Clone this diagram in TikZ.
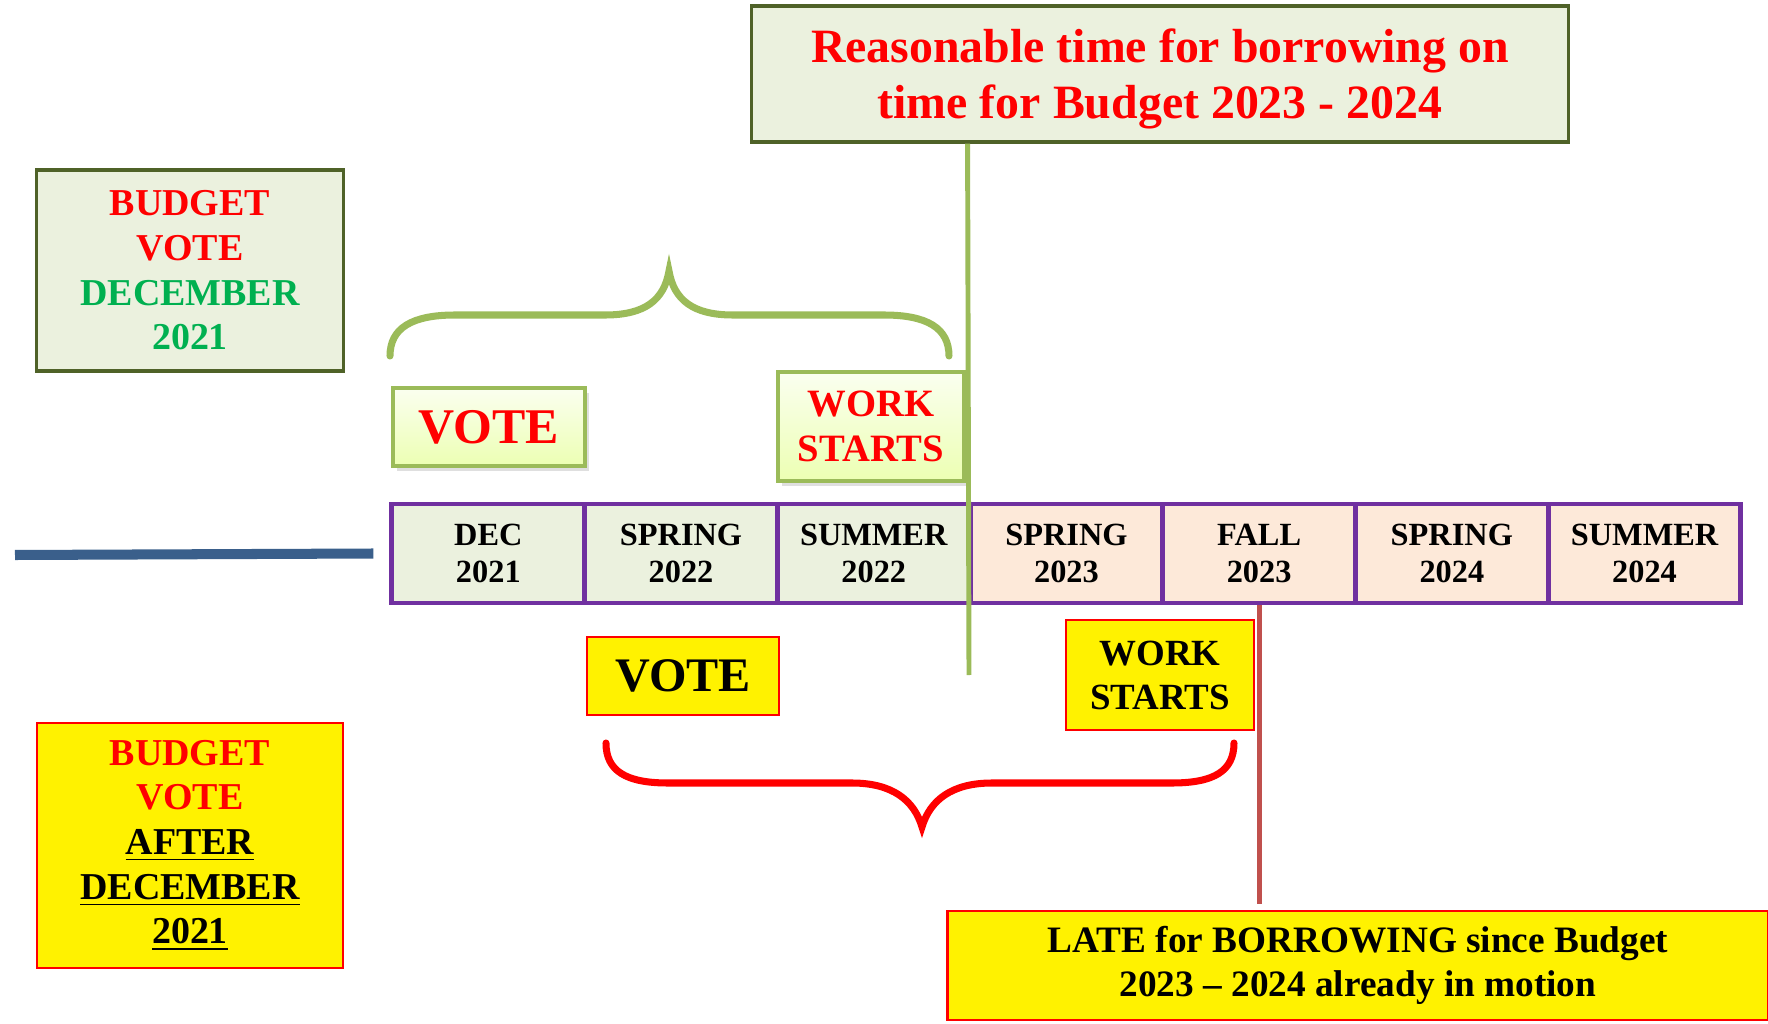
\documentclass[tikz,border=0pt]{standalone}
\usepackage{fontspec}
\setmainfont{Liberation Serif}
\usetikzlibrary{positioning}
\usetikzlibrary{shadows}
\definecolor{olivefill}{HTML}{EBF1DE}
\definecolor{oliveline}{HTML}{4F6228}
\definecolor{leafgreen}{HTML}{9BBB59}
\definecolor{peach}{HTML}{FDE9D9}
\definecolor{timepurple}{HTML}{7030A0}
\definecolor{brickred}{HTML}{C0504D}
\definecolor{navyline}{HTML}{3A5F8B}
\definecolor{votegreen}{HTML}{00B050}
\tikzset{every node/.style={align=center, inner sep=0pt, font=\bfseries},
  olivebox/.style={ % light olive boxes with dark border
    draw=oliveline, fill=olivefill, line width=0.9pt},
  leafbox/.style={ % shaded green boxes on top of the timeline
    draw=leafgreen, line width=1pt, top color=green!4!lime!6, bottom color=lime!30,
    drop shadow={opacity=0.25, shadow xshift=0.04cm, shadow yshift=-0.05cm},
    text=red},
  yellowbox/.style={ % yellow boxes below the timeline
    draw=red, fill=yellow, line width=0.8pt},
  cell/.style={draw=timepurple, line width=1.4pt,
    minimum width=1.927cm, minimum height=0.99cm,
    font=\bfseries\fontsize{9.2}{10.4}\selectfont},
  bracestroke/.style={line width=2pt, line cap=round},
  marker/.style={line width=1.4pt}}

\begin{document}
\begin{tikzpicture}[x=0.01cm, y=-0.01cm]
  \useasboundingbox (0,0) rectangle (1768,1024);

  \node[olivebox, minimum width=8.16cm, minimum height=1.36cm, text=red,
    font=\bfseries\fontsize{13.6}{16}\selectfont] (reasonable) at (1160,74)
    {\rule{0pt}{12.5pt}Reasonable time for borrowing on\\time for Budget 2023 - 2024};

  \node[olivebox, minimum width=3.06cm, minimum height=2.01cm,
    font=\bfseries\fontsize{10.8}{12.7}\selectfont] (budgetdec) at (190,270.5)
    {\textcolor{red}{BUDGET}\\\textcolor{red}{VOTE}\\\textcolor{votegreen}{DECEMBER}\\\textcolor{votegreen}{2021}};

  \node[leafbox, minimum width=1.92cm, minimum height=0.78cm,
    font=\bfseries\fontsize{14.2}{16}\selectfont] (voteearly) at (489,427) {VOTE};
  \node[leafbox, minimum width=1.86cm, minimum height=1.09cm,
    font=\bfseries\fontsize{11}{12.8}\selectfont] (workearly) at (871,426.5) {WORK\\STARTS};

  % timeline
  \foreach \i/\mon/\yr/\col in {1/DEC/2021/olivefill, 2/SPRING/2022/olivefill,
      3/SUMMER/2022/olivefill, 4/SPRING/2023/peach, 5/FALL/2023/peach,
      6/SPRING/2024/peach, 7/SUMMER/2024/peach}
    \node[cell, fill=\col] (cell\i) at ({392+192.7*(\i-0.5)},553.5) {\mon\\\yr};

  \draw[navyline, line width=2.85pt] (15,555) -- ([xshift=-0.16cm]cell1.west);

  \coordinate (greenend) at (969,675);
  \draw[leafgreen, marker] (reasonable.south -| cell4.west) -- (greenend);

  \draw[leafgreen, bracestroke] (390,356) .. controls (390,328) and (412,315) .. (455,315)
    -- (605,315) .. controls (645,315) and (664,300) .. (669,271)
    .. controls (674,300) and (693,315) .. (733,315) -- (884,315)
    .. controls (927,315) and (949,328) .. (949,356);

  \node[yellowbox, minimum width=1.92cm, minimum height=0.78cm,
    font=\bfseries\fontsize{13.7}{16}\selectfont] (votelate) at (683,676) {VOTE};
  \node[yellowbox, minimum width=1.88cm, minimum height=1.10cm,
    font=\bfseries\fontsize{10.5}{12.5}\selectfont] (worklate) at (1160,675) {WORK\\STARTS};

  \node[yellowbox, minimum width=3.06cm, minimum height=2.45cm,
    font=\bfseries\fontsize{10.8}{12.7}\selectfont] (budgetafter) at (190,845.5)
    {\textcolor{red}{BUDGET}\\\textcolor{red}{VOTE}\\\underline{AFTER}\\\underline{DECEMBER}\\\underline{2021}};

  \node[yellowbox, minimum width=8.2cm, minimum height=1.09cm,
    font=\bfseries\fontsize{10.6}{12.5}\selectfont] (late) at (1358,965.5)
    {LATE for BORROWING since Budget\\2023 -- 2024 already in motion};

  \draw[brickred, marker, shorten >=0.06cm] (cell5.south) -- (cell5.south |- late.north);

  \draw[red, bracestroke] (606,743) .. controls (606,771) and (626,783) .. (668,783)
    -- (852,783) .. controls (892,783) and (914,800) .. (922,827)
    .. controls (930,800) and (952,783) .. (992,783) -- (1172,783)
    .. controls (1214,783) and (1234,771) .. (1234,743);
\end{tikzpicture}
\end{document}
